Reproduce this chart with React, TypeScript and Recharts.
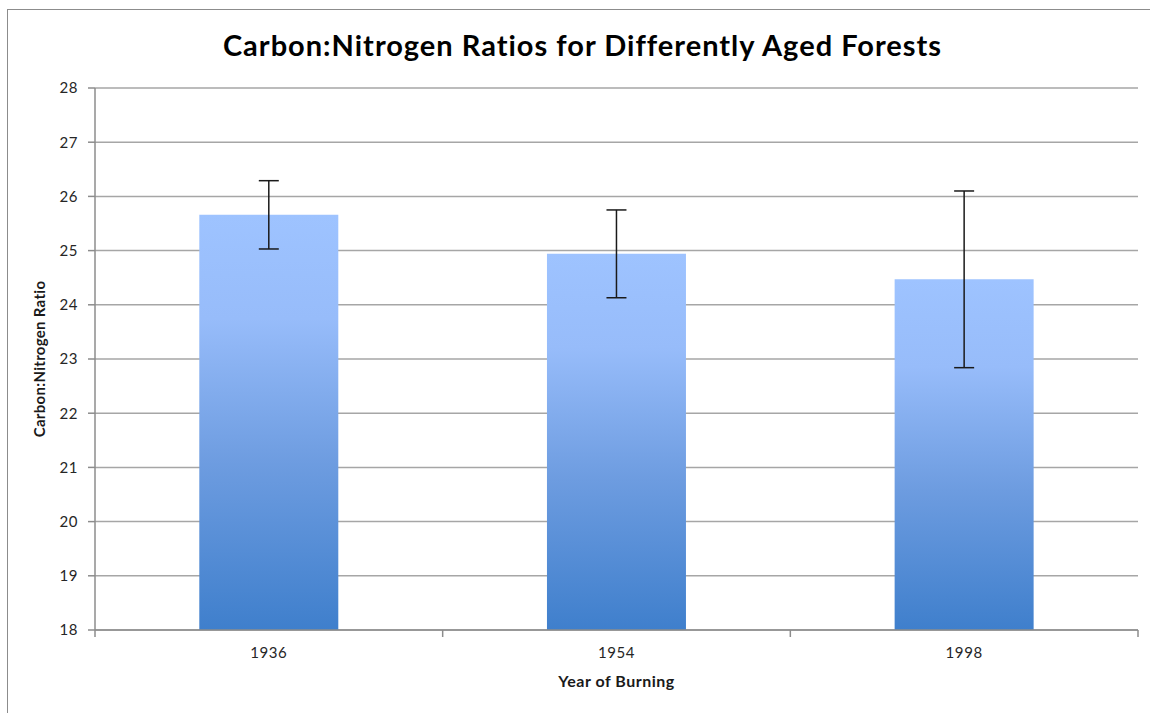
import React from 'react';
import { BarChart, Bar, XAxis, YAxis, CartesianGrid, ErrorBar, Label } from 'recharts';

const years = ['1936', '1954', '1998'];
const ratios = [25.66, 24.94, 24.47];
const errors = [0.63, 0.81, 1.63];
const yTicks = [18, 19, 20, 21, 22, 23, 24, 25, 26, 27, 28];

const data = years.map((y, i) => ({ year: y, ratio: ratios[i], err: errors[i] }));

const FONT = 'Lato, "Open Sans", sans-serif';
const AXIS = '#8c8c8c';

const XTick = (props: any) => {
  const { x, y, payload, index } = props;
  const off = payload && payload.offset ? payload.offset : 0;
  return (
    <g>
      <line x1={x + off} y1={y - 8} x2={x + off} y2={y - 1} stroke={AXIS} strokeWidth={1.5} />
      {index === 0 && <line x1={x - off} y1={y - 8} x2={x - off} y2={y - 1} stroke={AXIS} strokeWidth={1.5} />}
      <text x={x} y={y + 20} textAnchor="middle" fontSize={15} letterSpacing={0.6} fill="#262626" fontFamily={FONT}>
        {payload.value}
      </text>
    </g>
  );
};

export default function App() {
  return (
    <div style={{ position: 'absolute', left: 0, top: 0, width: 1150, height: 713, background: '#fff' }}>
      <div style={{ position: 'absolute', left: 7, top: 9, width: 1160, height: 720, borderLeft: '1.5px solid #8c8c8c', borderTop: '1.5px solid #8c8c8c' }} />
      <div style={{ position: 'absolute', left: 0, top: 27, width: 1165, textAlign: 'center', fontFamily: FONT, fontWeight: 700, fontSize: 29, letterSpacing: 1, color: '#000' }}>
        Carbon:Nitrogen Ratios for Differently Aged Forests
      </div>
      <BarChart width={1150} height={713} data={data} margin={{ top: 88, right: 12, left: 0, bottom: 0 }} barCategoryGap="30%" style={{ position: 'absolute', left: 0, top: 0 }}>
        <defs>
          <linearGradient id="barGrad" x1="0" y1="0" x2="0" y2="1">
            <stop offset="0%" stopColor="#9EC3FF" />
            <stop offset="25%" stopColor="#97BCFA" />
            <stop offset="60%" stopColor="#6D9CE0" />
            <stop offset="100%" stopColor="#3F7FCC" />
          </linearGradient>
        </defs>
        <CartesianGrid vertical={false} stroke="#a6a6a6" strokeWidth={1.5} />
        <XAxis dataKey="year" height={83} axisLine={{ stroke: AXIS, strokeWidth: 1.5 }} tickLine={false} tick={<XTick />} interval={0}>
          <Label value="Year of Burning" position="insideTop" offset={46} style={{ fontFamily: FONT, fontWeight: 700, fontSize: 16, letterSpacing: 0.5, fill: '#1a1a1a' }} />
        </XAxis>
        <YAxis width={95} domain={[18, 28]} ticks={yTicks} allowDataOverflow axisLine={{ stroke: AXIS, strokeWidth: 1.5 }} tickLine={{ stroke: AXIS, strokeWidth: 1.5 }} tickSize={7} tick={{ fontSize: 15, fill: '#262626', fontFamily: FONT, dx: -8, letterSpacing: 0.6 }}>
          <Label value="Carbon:Nitrogen Ratio" angle={-90} position="insideLeft" offset={40} style={{ fontFamily: FONT, fontWeight: 700, fontSize: 15, letterSpacing: 0.3, fill: '#1a1a1a', textAnchor: 'middle' }} />
        </YAxis>
        <Bar dataKey="ratio" fill="url(#barGrad)" isAnimationActive={false}>
          <ErrorBar dataKey="err" width={10} stroke="#1a1a1a" strokeWidth={1.5} isAnimationActive={false} />
        </Bar>
      </BarChart>
    </div>
  );
}
